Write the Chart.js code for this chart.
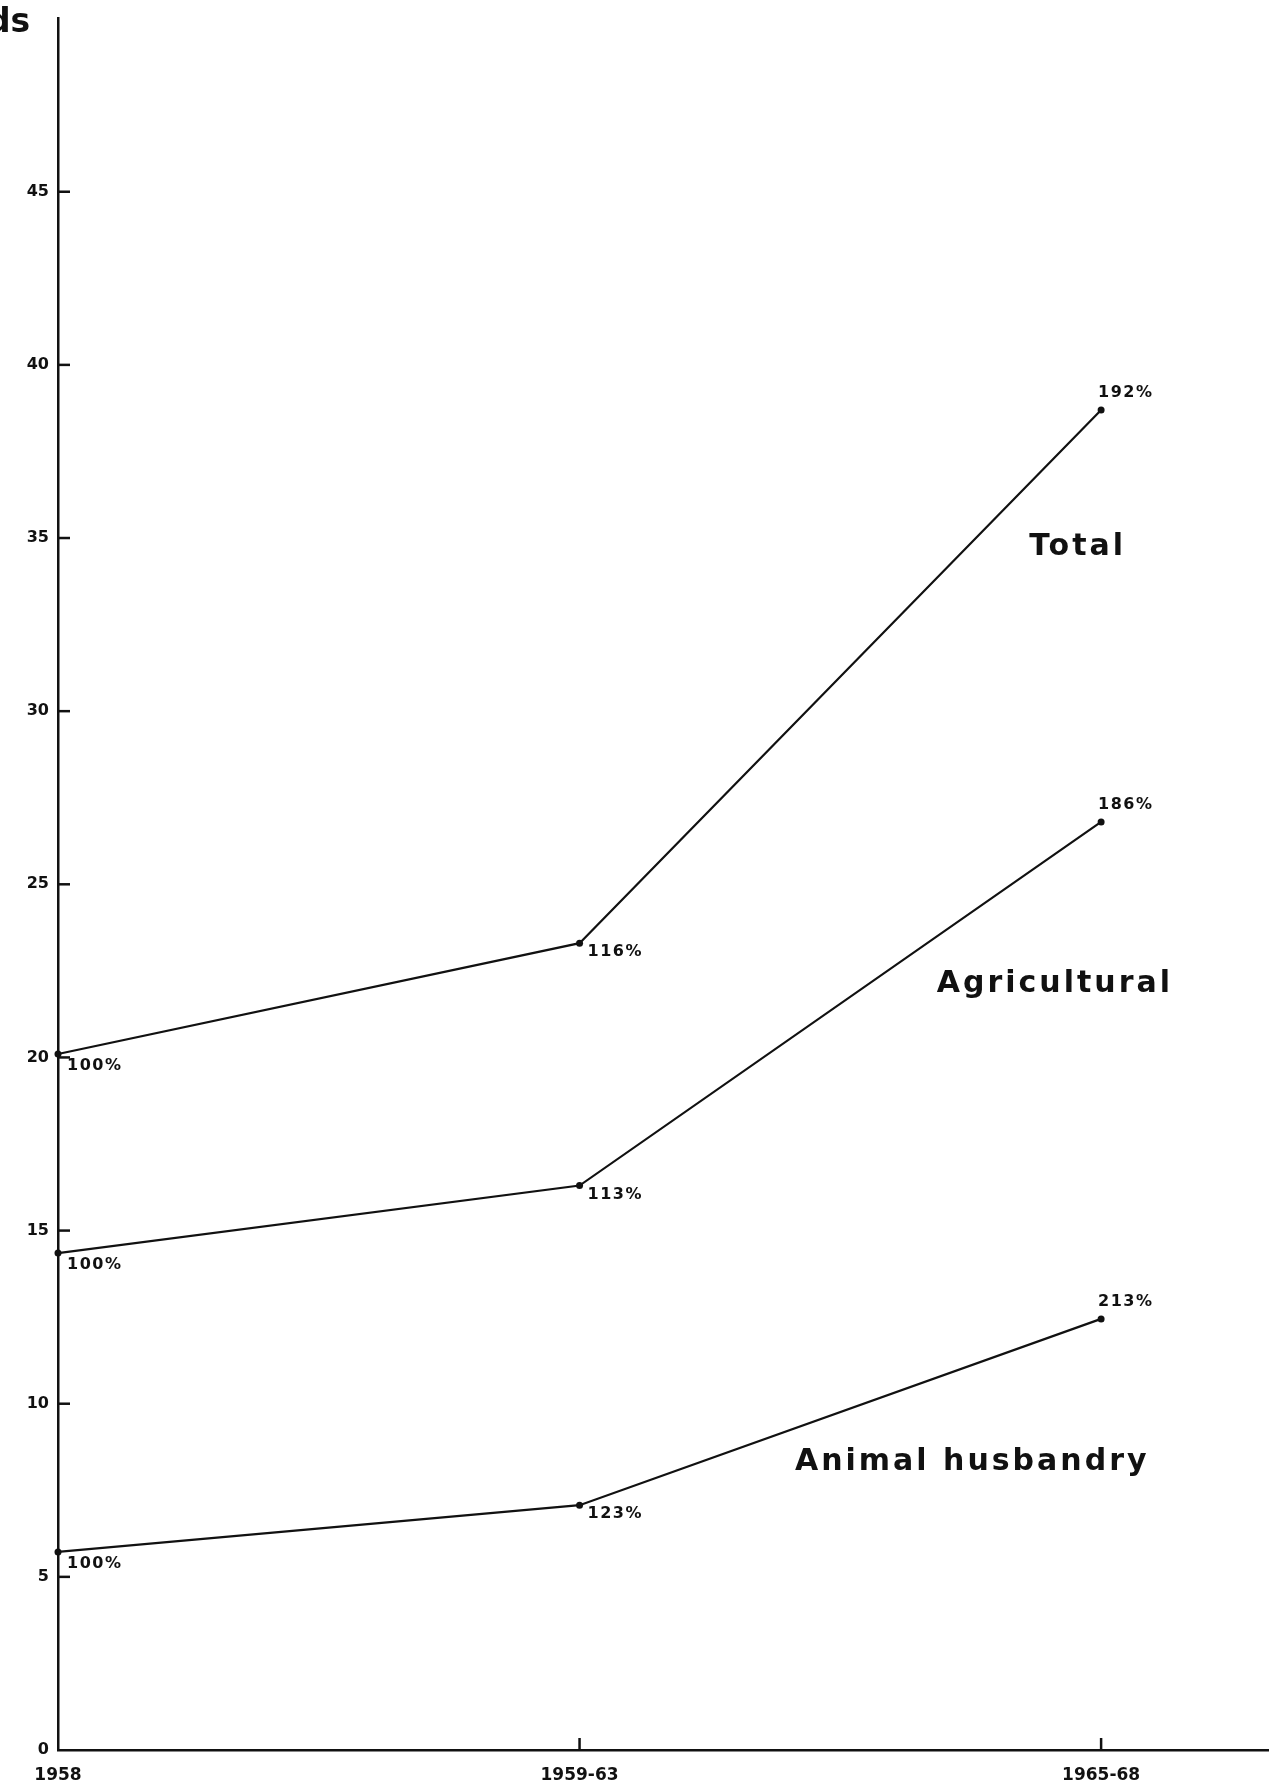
<!DOCTYPE html>
<html>
<head>
<meta charset="utf-8">
<script src="https://cdn.jsdelivr.net/npm/chart.js@4.4.1/dist/chart.umd.min.js"></script>
<style>
  html, body { margin: 0; padding: 0; background: #fff; }
  canvas { display: block; }
</style>
</head>
<body>
<canvas id="c" width="1279" height="1791"></canvas>
<script>
// ---- data ----
const categories = ['1958', '1959-63', '1965-68'];
const seriesNames = ['Total', 'Agricultural', 'Animal husbandry'];
const totalValues = [20.1, 23.3, 38.7];
const agriculturalValues = [14.35, 16.3, 26.8];
const animalValues = [5.72, 7.07, 12.45];
const totalPct = ['100%', '116%', '192%'];
const agriculturalPct = ['100%', '113%', '186%'];
const animalPct = ['100%', '123%', '213%'];
const yTickValues = [0, 5, 10, 15, 20, 25, 30, 35, 40, 45];
const yAxisTitleFragment = 'ds';

const INK = '#111';
const FONT = '"DejaVu Sans", sans-serif';

function toPoints(arr) { return arr.map((v, i) => ({ x: i, y: v })); }

function ds(label, values, pct) {
  return {
    label: label,
    data: toPoints(values),
    pctLabels: pct,
    borderColor: INK,
    backgroundColor: INK,
    borderWidth: 2.2,
    pointRadius: 3.5,
    pointBackgroundColor: INK,
    pointBorderWidth: 0,
    tension: 0,
    clip: false
  };
}

const annotatePlugin = {
  id: 'annotate',
  afterDraw(chart) {
    const ctx = chart.ctx;
    const xs = chart.scales.x, ys = chart.scales.y;
    const area = chart.chartArea;
    ctx.save();
    ctx.strokeStyle = INK;
    ctx.fillStyle = INK;
    ctx.lineWidth = 2.5;
    // inner tick marks on y axis
    ys.ticks.forEach(t => {
      if (t.value === 0) return;
      const py = ys.getPixelForValue(t.value);
      ctx.beginPath();
      ctx.moveTo(area.left, py);
      ctx.lineTo(area.left + 12, py);
      ctx.stroke();
    });
    // inner tick marks on x axis
    xs.ticks.forEach(t => {
      if (t.value === 0) return;
      const px = xs.getPixelForValue(t.value);
      ctx.beginPath();
      ctx.moveTo(px, area.bottom);
      ctx.lineTo(px, area.bottom - 12);
      ctx.stroke();
    });
    // percentage labels
    ctx.font = 'bold 16px ' + FONT;
    try { ctx.letterSpacing = '1.5px'; } catch (e) {}
    ctx.textAlign = 'left';
    ctx.textBaseline = 'middle';
    chart.data.datasets.forEach((d, di) => {
      const meta = chart.getDatasetMeta(di);
      meta.data.forEach((pt, i) => {
        const txt = d.pctLabels[i];
        let x = pt.x, y = pt.y;
        if (i === 2) { x -= 3; y -= 17; }
        else if (i === 0) { x += 9; y += 12; }
        else { x += 8; y += 9; }
        ctx.fillText(txt, x, y);
      });
    });
    // series names
    ctx.font = 'bold 30px ' + FONT;
    try { ctx.letterSpacing = '3px'; } catch (e) {}
    ctx.textBaseline = 'alphabetic';
    const anchors = [[1.862, 34.5], [1.685, 21.9], [1.413, 8.09]];
    seriesNames.forEach((name, i) => {
      ctx.fillText(name, xs.getPixelForValue(anchors[i][0]), ys.getPixelForValue(anchors[i][1]));
    });
    // cut-off axis title fragment
    ctx.font = 'bold 33px ' + FONT;
    try { ctx.letterSpacing = '0px'; } catch (e) {}
    ctx.fillText(yAxisTitleFragment, -13, 32);
    ctx.restore();
  }
};

new Chart(document.getElementById('c'), {
  type: 'line',
  data: {
    datasets: [
      ds(seriesNames[0], totalValues, totalPct),
      ds(seriesNames[1], agriculturalValues, agriculturalPct),
      ds(seriesNames[2], animalValues, animalPct)
    ]
  },
  options: {
    responsive: false,
    devicePixelRatio: 1,
    animation: false,
    layout: { padding: { top: 10, right: 11, left: 0, bottom: 0 } },
    plugins: { legend: { display: false }, tooltip: { enabled: false }, title: { display: false } },
    scales: {
      x: {
        type: 'linear',
        min: 0,
        max: 2.32,
        afterBuildTicks: s => { s.ticks = categories.map((c, i) => ({ value: i })); },
        afterFit: s => { s.height = 41; },
        ticks: {
          callback: v => categories[v],
          color: INK,
          font: { family: FONT, size: 17, weight: 'bold' },
          padding: 15,
          maxRotation: 0,
          autoSkip: false
        },
        grid: { display: false, drawTicks: false, tickLength: 0 },
        border: { display: true, color: INK, width: 2.5 }
      },
      y: {
        min: 0,
        max: 50,
        afterBuildTicks: s => { s.ticks = yTickValues.map(v => ({ value: v })); },
        afterFit: s => { s.width = 58; },
        ticks: {
          color: INK,
          font: { family: FONT, size: 16, weight: 'bold' },
          padding: 9
        },
        grid: { display: false, drawTicks: false, tickLength: 0 },
        border: { display: true, color: INK, width: 2.5 }
      }
    }
  },
  plugins: [annotatePlugin]
});
</script>
</body>
</html>
